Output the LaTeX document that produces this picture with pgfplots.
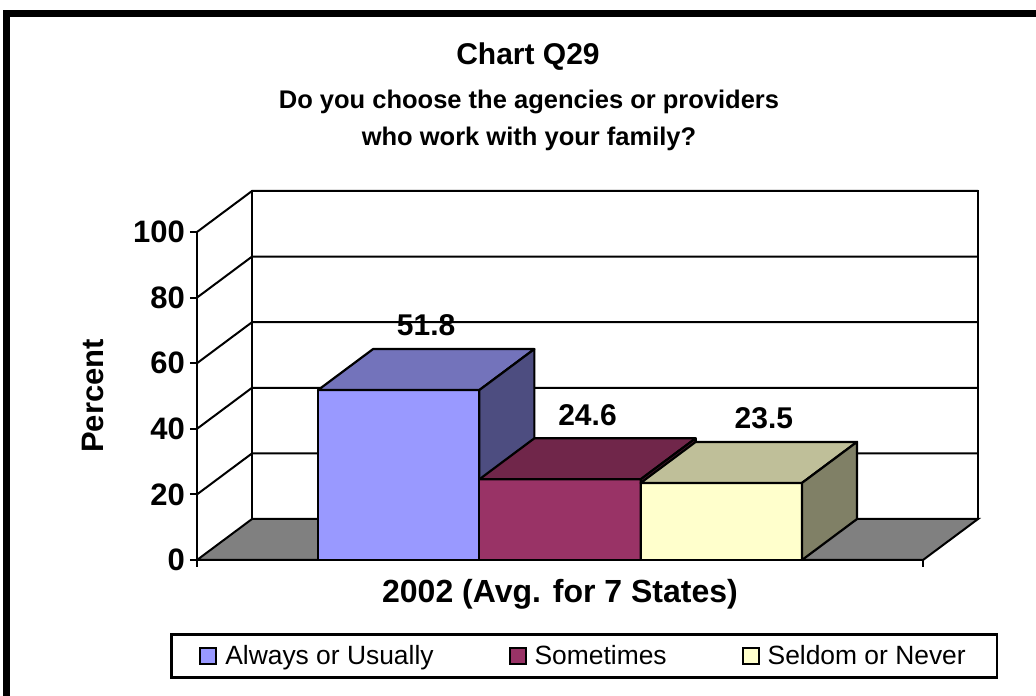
\documentclass[border=0pt]{standalone}
\usepackage{fontspec}
\setmainfont{Liberation Sans}
\usepackage{pgfplots}
\pgfplotsset{compat=1.18}
\definecolor{c1f}{RGB}{153,153,255}
\definecolor{c1t}{RGB}{115,115,187}
\definecolor{c1s}{RGB}{77,77,128}
\definecolor{c2f}{RGB}{153,51,102}
\definecolor{c2t}{RGB}{112,38,74}
\definecolor{c2s}{RGB}{77,26,51}
\definecolor{c3f}{RGB}{255,255,204}
\definecolor{c3t}{RGB}{191,191,153}
\definecolor{c3s}{RGB}{128,128,102}
\definecolor{floorgray}{RGB}{128,128,128}

% #1 left x of bar, #2 value, #3 front, #4 top, #5 side, #6 label xshift
\newcommand{\cubebar}[6]{%
\addplot[forget plot, fill=#3, draw=black, line width=2.2pt, line join=round]
  table[row sep=\\, x expr={#1+\thisrow{a}+0.341*\thisrow{d}}, y expr={#2*\thisrow{b}+12.5*\thisrow{d}}]
  {a b d\\0 0 0\\1 0 0\\1 1 0\\0 1 0\\} -- cycle;
\addplot[forget plot, fill=#4, draw=black, line width=2.2pt, line join=round]
  table[row sep=\\, x expr={#1+\thisrow{a}+0.341*\thisrow{d}}, y expr={#2*\thisrow{b}+12.5*\thisrow{d}}]
  {a b d\\0 1 0\\1 1 0\\1 1 1\\0 1 1\\} -- cycle;
\addplot[forget plot, fill=#5, draw=black, line width=2.2pt, line join=round]
  table[row sep=\\, x expr={#1+\thisrow{a}+0.341*\thisrow{d}}, y expr={#2*\thisrow{b}+12.5*\thisrow{d}}]
  {a b d\\1 0 0\\1 0 1\\1 1 1\\1 1 0\\} -- cycle;
\addplot[forget plot, draw=none, mark=none, nodes near coords={#2},
  every node near coord/.append style={anchor=center, yshift=44pt, xshift=#6, text=black,
  font=\bfseries\fontsize{30}{30}\selectfont}]
  table[row sep=\\, x expr={#1+0.6705}, y expr={#2+6.25}] {a\\0\\};
}

\begin{document}
\begin{tikzpicture}
\useasboundingbox (0,0) rectangle (1036pt,696pt);
\draw[line width=7pt] (6pt,-20pt) -- (6pt,682pt) -- (1070pt,682pt);
\node[anchor=base, font=\bfseries\fontsize{30}{36}\selectfont] at (528pt,631pt) {Chart Q29};
\node[anchor=base, font=\bfseries\fontsize{25.5}{30}\selectfont] at (529pt,587pt) {Do you choose the agencies or providers};
\node[anchor=base, font=\bfseries\fontsize{25.5}{30}\selectfont] at (529pt,550pt) {who work with your family?};
\begin{axis}[
  at={(197pt,136pt)}, anchor=south west,
  scale only axis, width=726pt, height=328pt,
  xmin=0, xmax=4.5, ymin=0, ymax=100, clip=false,
  axis x line*=bottom, axis y line*=left,
  axis line style={line width=2pt, black},
  xtick={0,4.5}, xticklabels={},
  ytick={0,20,40,60,80,100},
  tick align=outside, major tick length=7pt,
  tick style={line width=2pt, black},
  /pgf/number format/assume math mode=true,
  yticklabel style={font=\bfseries\fontsize{31}{31}\selectfont, inner xsep=0pt, xshift=-5pt},
  xlabel={2002 (Avg. for 7 States)},
  xlabel style={font=\bfseries\fontsize{32}{32}\selectfont, at={([yshift=-43pt]axis description cs:0.5,0)}, anchor=base},
  ylabel={Percent},
  ylabel style={font=\bfseries\fontsize{31}{31}\selectfont, at={([xshift=-104.5pt]axis description cs:0,0.5)}, anchor=center},
  legend columns=3,
  legend image code/.code={\draw[#1, line width=2pt] (0pt,-8pt) rectangle (16pt,8pt);},
  legend style={at={(axis description cs:1.1033,-0.2927)}, anchor=east,
    draw=black, line width=2.5pt, font=\fontsize{26.4}{30}\selectfont,
    inner xsep=28pt, inner ysep=7pt,
    nodes={inner xsep=3pt, inner ysep=4pt},
    /tikz/every odd column/.append style={column sep=5pt},
    /tikz/every even column/.append style={column sep=72pt}},
]
% back wall
\addplot[forget plot, fill=white, draw=black, line width=2pt] coordinates {(0.341,12.5) (4.841,12.5) (4.841,112.5) (0.341,112.5)} -- cycle;
% grid lines (side wall diagonals + back wall)
\addplot[forget plot, black, line width=2pt] coordinates {(0,20) (0.341,32.5) (4.841,32.5)};
\addplot[forget plot, black, line width=2pt] coordinates {(0,40) (0.341,52.5) (4.841,52.5)};
\addplot[forget plot, black, line width=2pt] coordinates {(0,60) (0.341,72.5) (4.841,72.5)};
\addplot[forget plot, black, line width=2pt] coordinates {(0,80) (0.341,92.5) (4.841,92.5)};
\addplot[forget plot, black, line width=2pt] coordinates {(0,100) (0.341,112.5) (4.841,112.5)};
% floor
\addplot[forget plot, fill=floorgray, draw=black, line width=2pt] coordinates {(0,0) (4.5,0) (4.841,12.5) (0.341,12.5)} -- cycle;
% bars
\cubebar{0.75}{51.8}{c1f}{c1t}{c1s}{0pt}
\cubebar{1.75}{24.6}{c2f}{c2t}{c2s}{0pt}
\cubebar{2.75}{23.5}{c3f}{c3t}{c3s}{15pt}
\addlegendimage{fill=c1f, draw=black}
\addlegendentry{Always or Usually}
\addlegendimage{fill=c2f, draw=black}
\addlegendentry{Sometimes}
\addlegendimage{fill=c3f, draw=black}
\addlegendentry{Seldom or Never}
\end{axis}
\end{tikzpicture}
\end{document}
